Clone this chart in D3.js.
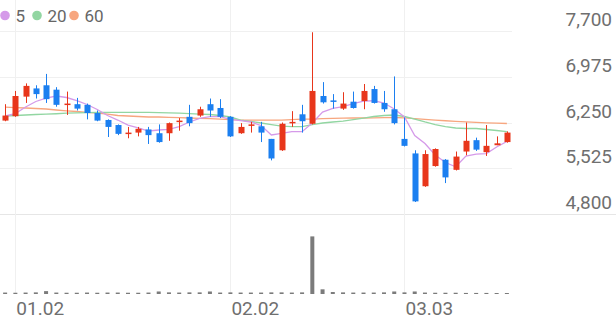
<!DOCTYPE html>
<html>
<head>
<meta charset="utf-8">
<script src="https://cdn.jsdelivr.net/npm/d3@7"></script>
<style>
  body { margin: 0; background: #fff; }
  svg { display: block; font-family: Roboto, "Noto Sans", sans-serif; }
  .axis-text { fill: #6f6f6f; font-size: 19px; }
  .legend-text { fill: #666; font-size: 17px; }
</style>
</head>
<body>
<svg id="chart"></svg>
<script>
var width = 616;
var height = 321;

// trading days, Dec 30 to Mar 17
var dates = ['12.30', '01.02', '01.05', '01.06', '01.07', '01.08', '01.09',
  '01.12', '01.13', '01.14', '01.15', '01.16', '01.19', '01.20', '01.21', '01.22', '01.23',
  '01.26', '01.27', '01.28', '01.29', '01.30', '02.02', '02.03', '02.04', '02.05', '02.06',
  '02.09', '02.10', '02.11', '02.12', '02.13', '02.19', '02.20', '02.23', '02.24', '02.25',
  '02.26', '02.27', '03.03', '03.04', '03.05', '03.06', '03.09', '03.10', '03.11', '03.12',
  '03.13', '03.16', '03.17'];
var dateTicks = ['01.02', '02.02', '03.03'];

var open = [6280, 6350, 6660, 6790, 6840, 6770, 6540, 6540, 6530, 6400, 6290, 6210, 6080, 6090, 6140,
  6080, 6080, 6260, 6340, 6360, 6540, 6480, 6340, 6080, 6200, 6190, 5990, 5810, 6240, 6380,
  6230, 6670, 6600, 6470, 6580, 6590, 6780, 6560, 6460, 5990, 5760, 5240, 5560, 5660, 5500,
  5790, 5970, 5780, 5890, 5940];
var high = [6540, 6750, 6870, 6840, 7020, 6810, 6740, 6640, 6550, 6440, 6300, 6220, 6180, 6180, 6180,
  6220, 6250, 6320, 6530, 6500, 6630, 6620, 6350, 6240, 6260, 6260, 5990, 6250, 6430, 6530,
  7680, 6890, 6700, 6730, 6740, 6860, 6830, 6750, 6980, 6330, 5810, 5810, 5840, 5670, 5790,
  6250, 6010, 6210, 6030, 6110];
var low = [6270, 6340, 6560, 6630, 6560, 6500, 6370, 6440, 6300, 6270, 6020, 6050, 6000, 6030, 5910,
  5930, 5960, 6120, 6190, 6340, 6340, 6320, 6020, 6070, 6090, 5940, 5650, 5800, 6180, 6090,
  6220, 6550, 6470, 6450, 6470, 6460, 6550, 6420, 6220, 5870, 4990, 5230, 5550, 5290, 5490,
  5730, 5800, 5720, 5890, 5930];
var close = [6360, 6670, 6830, 6700, 6620, 6530, 6550, 6470, 6400, 6280, 6180, 6070, 6090, 6150, 6050,
  5940, 6240, 6280, 6240, 6460, 6440, 6340, 6030, 6180, 6220, 6090, 5680, 6230, 6260, 6270,
  6750, 6570, 6590, 6550, 6480, 6750, 6560, 6460, 6240, 5880, 5000, 5750, 5830, 5380, 5710,
  5960, 5820, 5880, 5920, 6090];
var volume = [40, 35, 40, 45, 80, 40, 35, 35, 40, 35, 40, 40, 35, 35, 40, 70, 45, 40, 45, 45,
  70, 40, 45, 40, 40, 40, 45, 45, 40, 45, 1600, 130, 55, 45, 40, 40, 40, 45, 70, 45,
  70, 40, 35, 35, 35, 30, 30, 30, 25, 25];

var ma5 = [6353, 6392, 6495, 6583, 6638, 6670, 6646, 6598, 6535, 6456, 6361, 6289, 6210, 6163, 6115,
  6131, 6142, 6186, 6258, 6316, 6342, 6342, 6300, 6281, 6258, 6202, 6052, 6079, 6104, 6104,
  6242, 6416, 6475, 6500, 6551, 6590, 6595, 6559, 6464, 6337, 6044, 5917, 5735, 5616, 5549,
  5719, 5750, 5758, 5861, 5949];
var ma20 = [6353, 6361, 6369, 6377, 6384, 6389, 6397, 6403, 6408, 6410, 6411, 6411, 6411, 6411, 6410,
  6408, 6403, 6397, 6391, 6384, 6377, 6361, 6337, 6289, 6266, 6242, 6218, 6194, 6186, 6186,
  6218, 6242, 6258, 6273, 6297, 6321, 6345, 6361, 6369, 6345, 6305, 6258, 6218, 6186, 6163,
  6155, 6155, 6139, 6123, 6107];
var ma60 = [6495, 6487, 6480, 6472, 6464, 6448, 6435, 6424, 6411, 6400, 6384, 6361, 6353, 6345, 6337,
  6337, 6332, 6327, 6321, 6316, 6312, 6305, 6297, 6289, 6289, 6289, 6289, 6289, 6297, 6302,
  6305, 6310, 6315, 6318, 6321, 6321, 6324, 6327, 6329, 6324, 6313, 6300, 6289, 6278, 6269,
  6261, 6253, 6245, 6239, 6234];

var priceTicks = [4800, 5525, 6250, 6975, 7700];
var maNames = ['5', '20', '60'];
var maColors = ['#d59ae9', '#92d6a2', '#f7a67f'];
var upColor = '#e8361b';
var downColor = '#1b7ff0';

var plotRight = 512;

var svg = d3.select('#chart').attr('width', width).attr('height', height);

var x = d3.scaleBand().domain(dates).range([0, plotRight]);
var y = d3.scaleLinear().domain([4800, 7700]).range([214, 31]);
var yVol = d3.scaleLinear().domain([0, 2000]).range([294, 222]);
var cx = function(i) { return x(dates[i]) + x.bandwidth() / 2; };

var grid = svg.append('g');
grid.selectAll('.hgrid').data(priceTicks).enter().append('line')
  .attr('x1', 0)
  .attr('x2', function(d) { return d === 4800 ? width : plotRight; })
  .attr('y1', function(d) { return Math.round(y(d)) + 0.5; })
  .attr('y2', function(d) { return Math.round(y(d)) + 0.5; })
  .attr('stroke', function(d) { return d === 4800 ? '#e6e6e6' : '#f0f0f0'; })
  .attr('stroke-width', 1);
grid.selectAll('.vgrid').data(dateTicks).enter().append('line')
  .attr('x1', function(d) { return Math.round(x(d) + x.bandwidth() / 2) + 0.5; })
  .attr('x2', function(d) { return Math.round(x(d) + x.bandwidth() / 2) + 0.5; })
  .attr('y1', 0)
  .attr('y2', 294)
  .attr('stroke', '#f0f0f0');

// price labels
svg.selectAll('.price-label').data(priceTicks).enter().append('text')
  .attr('class', 'axis-text')
  .attr('x', 612)
  .attr('y', function(d) { return y(d) - 5; })
  .style('text-anchor', 'end')
  .text(d3.format(','));

// date labels
svg.selectAll('.date-label').data(dateTicks).enter().append('text')
  .attr('class', 'axis-text')
  .attr('x', function(d) { return x(d) + x.bandwidth() / 2 + 1; })
  .attr('y', 315)
  .text(function(d) { return d; });

// volume
svg.append('g').selectAll('rect').data(volume).enter().append('rect')
  .attr('x', function(d, i) { return cx(i) - 2; })
  .attr('width', 4)
  .attr('y', function(d) { return Math.min(yVol(d), 293); })
  .attr('height', function(d) { return Math.max(294 - yVol(d), 1); })
  .attr('fill', '#7b7b7b');

// moving averages
var line = d3.line()
  .x(function(d, i) { return cx(i); })
  .y(function(d) { return y(d); });
var maGroup = svg.append('g');
[ma60, ma20, ma5].forEach(function(series, k) {
  maGroup.append('path')
    .datum(series)
    .attr('d', line)
    .attr('fill', 'none')
    .attr('stroke', maColors[2 - k])
    .attr('stroke-width', 1.3);
});

// candles
var candles = svg.append('g').selectAll('g').data(dates).enter().append('g');
var colorOf = function(i) { return close[i] >= open[i] ? upColor : downColor; };
candles.append('line')
  .attr('x1', function(d, i) { return Math.round(cx(i)) + 0.5; })
  .attr('x2', function(d, i) { return Math.round(cx(i)) + 0.5; })
  .attr('y1', function(d, i) { return y(high[i]); })
  .attr('y2', function(d, i) { return y(low[i]); })
  .attr('stroke', function(d, i) { return colorOf(i); })
  .attr('stroke-width', 1);
candles.append('rect')
  .attr('x', function(d, i) { return Math.round(cx(i)) + 0.5 - 3; })
  .attr('width', 6)
  .attr('y', function(d, i) { return y(Math.max(open[i], close[i])); })
  .attr('height', function(d, i) { return Math.max(Math.abs(y(open[i]) - y(close[i])), 1.5); })
  .attr('fill', function(d, i) { return colorOf(i); });

// legend
var legendX = [5, 37, 74];
var legend = svg.append('g').selectAll('g').data(maNames).enter().append('g')
  .attr('transform', function(d, i) { return 'translate(' + legendX[i] + ',15.5)'; });
legend.append('circle')
  .attr('r', 4.8)
  .attr('fill', function(d, i) { return maColors[i]; });
legend.append('text')
  .attr('class', 'legend-text')
  .attr('x', 10.5)
  .attr('y', 6)
  .text(function(d) { return d; });
</script>
</body>
</html>
